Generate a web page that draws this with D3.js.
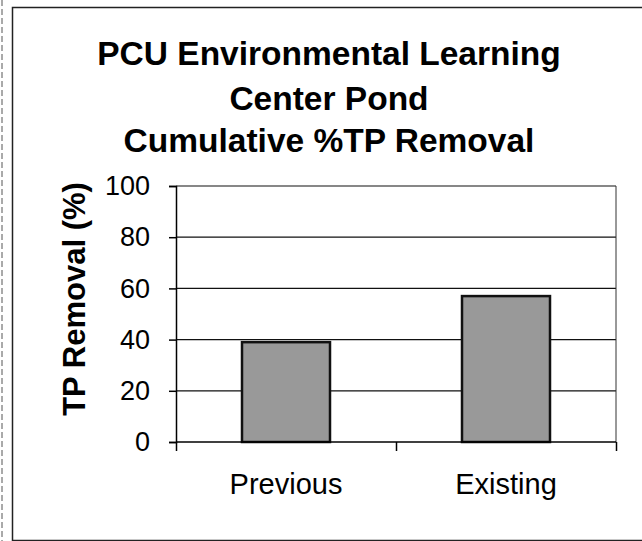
<!DOCTYPE html>
<html>
<head>
<meta charset="utf-8">
<script src="https://d3js.org/d3.v7.min.js"></script>
<style>
    body { margin: 0; background: #fff; }
    text { font-family: Arial, "Liberation Sans", sans-serif; fill: #000; }
</style>
</head>
<body>
<svg class="chart" width="642" height="541"></svg>
<script>
// chart values
const categories = ["Previous", "Existing"];
const removal = [39, 57];            // cumulative % TP removal
const yTicks = [0, 20, 40, 60, 80, 100];
const titleLines = ["PCU Environmental Learning", "Center Pond", "Cumulative %TP Removal"];
const yTitle = "TP Removal (%)";

let pLeft = 176, pRight = 616, pTop = 186, pBottom = 442;

const svg = d3.select(".chart");

// outer frame (scanned page border)
svg.append("line").attr("x1", 2).attr("x2", 2).attr("y1", 0).attr("y2", 541)
    .attr("stroke", "#555").attr("stroke-width", 1).attr("stroke-dasharray", "6,3");
svg.append("path")
    .attr("d", "M 642 7.5 H 12.5 V 540.5 H 642")
    .attr("fill", "none").attr("stroke", "#222").attr("stroke-width", 1.5);

let xs = d3.scaleBand().domain(categories).range([pLeft, pRight])
    .paddingInner(0.6).paddingOuter(0.3);
let xEdge = d3.scaleLinear().domain([0, categories.length]).range([pLeft, pRight]);
let ys = d3.scaleLinear().domain([0, 100]).range([pBottom, pTop]);

// gridlines
svg.append("g").selectAll("line")
    .data(yTicks.slice(1))
    .join("line")
    .attr("x1", pLeft).attr("x2", pRight)
    .attr("y1", d => ys(d)).attr("y2", d => ys(d))
    .attr("stroke", "#111").attr("stroke-width", 1.2);

// plot area right border
svg.append("line").attr("x1", pRight).attr("x2", pRight).attr("y1", pTop).attr("y2", pBottom)
    .attr("stroke", "#333").attr("stroke-width", 1);

// bars
svg.append("g").selectAll("rect")
    .data(removal)
    .join("rect")
    .attr("x", (d, i) => xs(categories[i]))
    .attr("y", d => ys(d))
    .attr("width", xs.bandwidth())
    .attr("height", d => pBottom - ys(d))
    .attr("fill", "#999")
    .attr("stroke", "#111")
    .attr("stroke-width", 2.5);

// y axis
let y_axis = d3.axisLeft(ys).tickValues(yTicks).tickSize(7).tickPadding(19);
let gy = svg.append("g").attr("transform", "translate(" + pLeft + ",0)").call(y_axis);
gy.selectAll("path, line").attr("stroke", "#000").attr("stroke-width", 1.5);
gy.selectAll("text").style("font-size", "27px").style("font-family", "Arial, 'Liberation Sans', sans-serif").attr("fill", "#000");

// x axis: ticks at category boundaries
let x_axis = d3.axisBottom(xEdge).tickValues(d3.range(categories.length + 1)).tickSize(9).tickFormat("");
let gx = svg.append("g").attr("transform", "translate(0," + pBottom + ")").call(x_axis);
gx.selectAll("path, line").attr("stroke", "#000").attr("stroke-width", 1.5);
gx.select(".domain").attr("d", "M" + pLeft + ",0H" + pRight);

// category labels
svg.append("g").selectAll("text")
    .data(categories)
    .join("text")
    .attr("x", d => xs(d) + xs.bandwidth() / 2)
    .attr("y", 494)
    .attr("text-anchor", "middle")
    .style("font-size", "29px")
    .text(d => d);

// y axis title
svg.append("text")
    .attr("transform", "translate(85,299) rotate(-90)")
    .attr("text-anchor", "middle")
    .style("font-size", "31px")
    .style("font-weight", "bold")
    .text(yTitle);

// chart title
svg.append("g").selectAll("text")
    .data(titleLines)
    .join("text")
    .attr("x", 329)
    .attr("y", (d, i) => [65, 110, 152][i])
    .attr("text-anchor", "middle")
    .style("font-size", "33.5px")
    .style("font-weight", "bold")
    .text(d => d);
</script>
</body>
</html>
